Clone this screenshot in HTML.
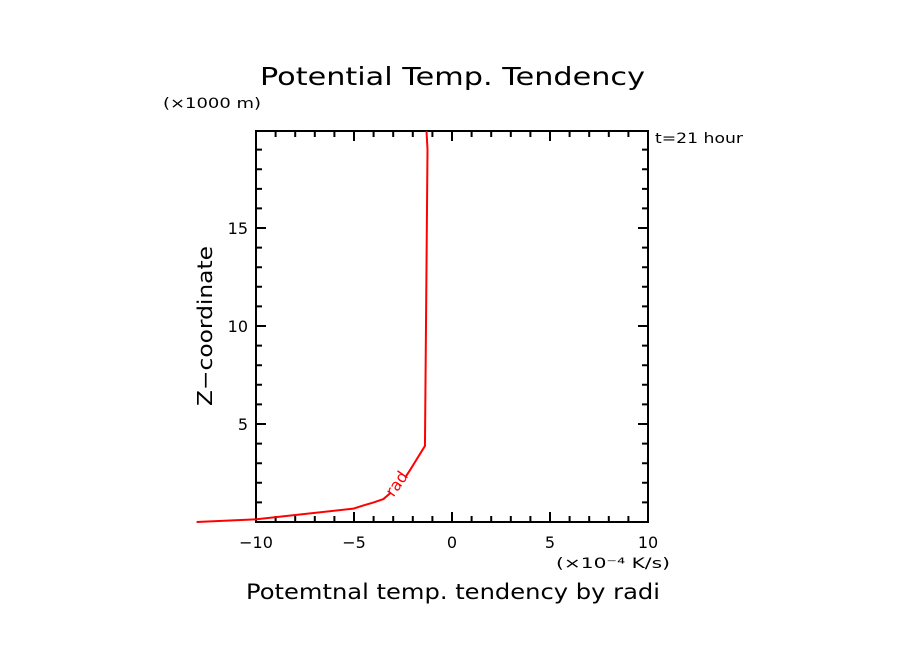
<!DOCTYPE html>
<html><head><meta charset="utf-8"><style>
body{margin:0;background:#fff;}
svg text{font-family:"DejaVu Sans","Liberation Sans",sans-serif;}
</style></head><body>
<svg id="c" width="904" height="654" xmlns="http://www.w3.org/2000/svg">
<rect width="904" height="654" fill="#fff"/>
<text x="260" y="85" font-size="25" textLength="385" lengthAdjust="spacingAndGlyphs">Potential Temp. Tendency</text>
<text x="163" y="108" font-size="14" textLength="98" lengthAdjust="spacingAndGlyphs">(×1000 m)</text>
<text x="655" y="143" font-size="14" textLength="88" lengthAdjust="spacingAndGlyphs">t=21 hour</text>
<text x="212" y="326" font-size="20" text-anchor="middle" textLength="160" lengthAdjust="spacingAndGlyphs" transform="rotate(-90 212 326)">Z−coordinate</text>
<text x="556" y="568" font-size="14" textLength="114" lengthAdjust="spacingAndGlyphs">(×10⁻⁴ K/s)</text>
<text x="246" y="599" font-size="21" textLength="414" lengthAdjust="spacingAndGlyphs">Potemtnal temp. tendency by radi</text>
<g id="axes"></g>
<g id="series"></g>
</svg>
<script>
const xTicks=[-10,-5,0,5,10];
const yTicks=[5,10,15];
const zVals=[0,0.14,0.68,0.85,1.0,1.17,1.6,2.1,2.65,3.2,3.88,19.0,19.95];
const radVals=[-13.03,-9.97,-5.04,-4.5,-4.0,-3.5,-3.0,-2.5,-2.14,-1.8,-1.38,-1.25,-1.3];
const X0=256,X1=648,Y0=522,Y1=131;
const sx=v=>X0+(v+10)/20*(X1-X0);
const sy=v=>Y0-v/19.95*(Y0-Y1);
const NS="http://www.w3.org/2000/svg";
function mk(t,a,p){const e=document.createElementNS(NS,t);for(const k in a)e.setAttribute(k,a[k]);p.appendChild(e);return e;}
const ax=document.getElementById('axes');
const fr=mk('rect',{x:X0,y:Y1,width:X1-X0,height:Y0-Y1,fill:'none',stroke:'#000','stroke-width':2},ax);


let d='';
for(let v=-10;v<=10;v++){const x=sx(v),L=(v%5===0)?10:6;d+=`M${x} ${Y0}v${-L}M${x} ${Y1}v${L}`;}
for(let v=1;v<=19;v++){const y=sy(v),L=(v%5===0)?10:6;d+=`M${X0} ${y}h${L}M${X1} ${y}h${-L}`;}
const tk=mk('path',{d:d,stroke:'#000','stroke-width':2,fill:'none'},ax);


xTicks.forEach(v=>{const t=mk('text',{x:sx(v),y:548,'font-size':16,'text-anchor':'middle'},ax);t.textContent=v===-10?'−10':v===-5?'−5':v;

});
yTicks.forEach(v=>{const t=mk('text',{x:X0-8,y:sy(v)+6,'font-size':16,'text-anchor':'end'},ax);t.textContent=v;

});
const s=document.getElementById('series');
const pts=zVals.map((z,i)=>sx(radVals[i])+','+sy(z)).join(' ');
const ln=mk('polyline',{points:pts,fill:'none',stroke:'#f00','stroke-width':2,'stroke-linejoin':'round'},s);


const gap=mk('rect',{x:386,y:472,width:22,height:24,fill:'#fff',transform:'rotate(-55 397 484)'},s);


const lb=mk('text',{x:397,y:489,'font-size':16,fill:'#f00','text-anchor':'middle',transform:'rotate(-55 397 484)'},s);
lb.textContent='rad';


</script>
</body></html>
